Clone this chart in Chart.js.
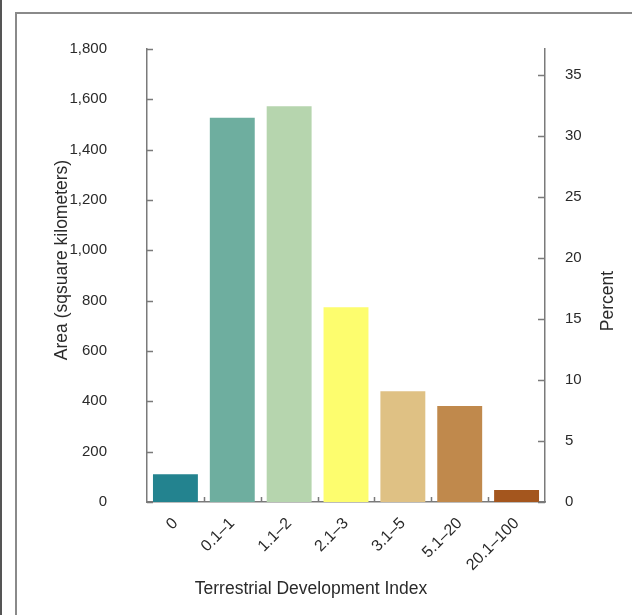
<!DOCTYPE html>
<html>
<head>
<meta charset="utf-8">
<script src="https://cdn.jsdelivr.net/npm/chart.js@4.4.0/dist/chart.umd.min.js"></script>
<style>
  html, body { margin: 0; padding: 0; background: #fff; }
  #wrap { position: relative; width: 632px; height: 615px; overflow: hidden; }
  #outer { position: absolute; left: 0; top: 0; width: 2px; height: 615px; background: #555; }
  #frame { position: absolute; left: 15px; top: 12px; width: 640px; height: 640px;
           border-left: 2px solid #8a8a8a; border-top: 2px solid #8a8a8a; }
  canvas { position: absolute; left: 0; top: 0; }
</style>
</head>
<body>
<div id="wrap">
  <div id="outer"></div>
  <div id="frame"></div>
  <canvas id="tdiChart" width="632" height="615"></canvas>
</div>
<script>
  const categories = ["0", "0.1–1", "1.1–2", "2.1–3", "3.1–5", "5.1–20", "20.1–100"];
  const areaValues = [110, 1527, 1573, 774, 440, 381, 48];
  const barColors = ["#23838f", "#6eae9f", "#b6d5ae", "#fdfd6e", "#dfc184", "#c0894c", "#a4561e"];
  const areaTicks = [0, 200, 400, 600, 800, 1000, 1200, 1400, 1600, 1800];
  const percentTicks = [0, 5, 10, 15, 20, 25, 30, 35];

  const fontFamily = '"Liberation Sans Narrow", "Arial Narrow", "Liberation Sans", sans-serif';
  const textColor = '#2a2a2a';
  const axisColor = '#7a7a7a';

  // right axis is the share of the total area, so it lines up with the left one
  const totalArea = areaValues.reduce((a, b) => a + b, 0);
  const percentMax = areaTicks[areaTicks.length - 1] / totalArea * 100;

  // inward tick marks and the axis titles
  const decorations = {
    id: 'decorations',
    afterDraw(chart) {
      const ctx = chart.ctx;
      const { left, right, top, bottom } = chart.chartArea;
      const x = chart.scales.x, y = chart.scales.y, y2 = chart.scales.y2;
      ctx.save();
      ctx.strokeStyle = axisColor;
      ctx.lineWidth = 1.5;
      ctx.beginPath();
      y.ticks.forEach(t => {
        const p = Math.round(y.getPixelForValue(t.value)) + 0.5;
        ctx.moveTo(left, p); ctx.lineTo(left + 6, p);
      });
      y2.ticks.forEach(t => {
        const p = Math.round(y2.getPixelForValue(t.value)) + 0.5;
        ctx.moveTo(right - 7, p); ctx.lineTo(right, p);
      });
      for (let i = 1; i < categories.length; i++) {
        const bx = Math.round((x.getPixelForValue(i - 1) + x.getPixelForValue(i)) / 2) + 0.5;
        ctx.moveTo(bx, bottom); ctx.lineTo(bx, bottom - 5);
      }
      ctx.stroke();

      ctx.fillStyle = textColor;
      ctx.font = '17.5px ' + fontFamily;
      ctx.textAlign = 'center';
      ctx.textBaseline = 'middle';

      ctx.save();
      ctx.translate(left - 85, top + 211);
      ctx.rotate(-Math.PI / 2);
      ctx.fillText('Area (sqsuare kilometers)', 0, 0);
      ctx.restore();

      ctx.save();
      ctx.translate(right + 63, top + 252);
      ctx.rotate(-Math.PI / 2);
      ctx.fillText('Percent', 0, 0);
      ctx.restore();

      ctx.fillText('Terrestrial Development Index', left + 164, bottom + 87);
      ctx.restore();
    }
  };

  const ctx = document.getElementById('tdiChart').getContext('2d');
  const chart = new Chart(ctx, {
    type: 'bar',
    data: {
      labels: categories,
      datasets: [{
        label: 'Area',
        data: areaValues,
        backgroundColor: barColors,
        borderWidth: 0,
        barPercentage: 0.79,
        categoryPercentage: 1.0,
        yAxisID: 'y'
      }]
    },
    options: {
      responsive: false,
      animation: false,
      layout: { padding: { top: 45, left: 0, right: 0, bottom: 0 } },
      plugins: {
        legend: { display: false },
        tooltip: { enabled: false }
      },
      scales: {
        x: {
          grid: { display: false, drawTicks: false },
          border: { display: true, color: axisColor, width: 1.5 },
          ticks: {
            color: textColor,
            font: { family: fontFamily, size: 16 },
            minRotation: 45,
            maxRotation: 45,
            padding: 12
          },
          afterFit: scale => { scale.height = 113; }
        },
        y: {
          position: 'left',
          min: 0,
          max: 1800,
          grid: { display: false, drawTicks: false },
          border: { display: true, color: axisColor, width: 1.5 },
          afterBuildTicks: scale => { scale.ticks = areaTicks.map(v => ({ value: v })); },
          ticks: {
            color: textColor,
            font: { family: fontFamily, size: 15 },
            padding: 40,
            callback: v => v.toLocaleString('en-US')
          },
          afterFit: scale => { scale.width = 147; }
        },
        y2: {
          position: 'right',
          min: 0,
          max: percentMax,
          grid: { display: false, drawTicks: false },
          border: { display: true, color: axisColor, width: 1.5 },
          afterBuildTicks: scale => { scale.ticks = percentTicks.map(v => ({ value: v })); },
          ticks: {
            color: textColor,
            font: { family: fontFamily, size: 15 },
            padding: 20
          },
          afterFit: scale => { scale.width = 87; }
        }
      }
    },
    plugins: [decorations]
  });
</script>
</body>
</html>
